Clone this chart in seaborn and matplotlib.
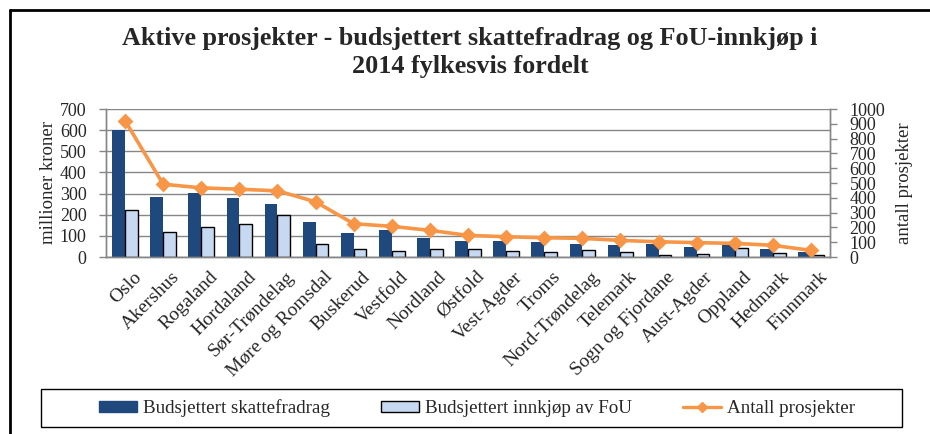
import numpy as np
import pandas as pd
import matplotlib
matplotlib.use("Agg")
import matplotlib.pyplot as plt
from matplotlib.patches import Patch, Rectangle
from matplotlib.lines import Line2D
from matplotlib.transforms import ScaledTranslation
import seaborn as sns

# data
counties = ['Oslo', 'Akershus', 'Rogaland', 'Hordaland', 'Sør-Trøndelag', 'Møre og Romsdal',
            'Buskerud', 'Vestfold', 'Nordland', 'Østfold', 'Vest-Agder', 'Troms',
            'Nord-Trøndelag', 'Telemark', 'Sogn og Fjordane', 'Aust-Agder', 'Oppland',
            'Hedmark', 'Finnmark']
skattefradrag = [600, 282, 305, 277, 253, 167, 115, 126, 88, 75, 77, 69, 60, 57, 60, 47, 55, 39, 24]
innkjop = [223, 118, 143, 154, 200, 61, 36, 30, 38, 38, 28, 22, 33, 24, 8, 14, 44, 17, 9]
prosjekter = [921, 492, 467, 458, 447, 373, 225, 207, 180, 146, 137, 130, 126, 112, 103, 97, 92, 79, 45]

lab1 = 'Budsjettert skattefradrag'
lab2 = 'Budsjettert innkjøp av FoU'
lab3 = 'Antall prosjekter'

dark = '#1F497D'
light = '#C6D9F1'
orange = '#F79646'
grid = '#868686'

df = pd.DataFrame({
    'fylke': counties * 2,
    'verdi': skattefradrag + innkjop,
    'serie': [lab1] * len(counties) + [lab2] * len(counties),
})

sns.set_theme(style='white')
plt.rcParams['font.family'] = ['Liberation Serif', 'DejaVu Serif']

W, H = 930, 434
fig = plt.figure(figsize=(W / 100, H / 100), dpi=100)
ax = fig.add_axes([106 / W, 1 - 257 / H, 724 / W, 148 / H])

sns.barplot(data=df, x='fylke', y='verdi', hue='serie', palette={lab1: dark, lab2: light},
            width=0.67, gap=0, saturation=1, legend=False, ax=ax)
for p in ax.containers[1]:
    p.set_edgecolor('black')
    p.set_linewidth(1)
for p in ax.containers[0]:
    p.set_linewidth(0)

ax2 = ax.twinx()
sns.pointplot(x=counties, y=prosjekter, ax=ax2, color=orange, markers='D',
              markersize=6, linewidth=2.6, errorbar=None)

n = len(counties)
ax.set_xlim(-0.5, n - 0.5)
ax.set_ylim(0, 700)
ax.set_yticks(range(0, 701, 100))
ax2.set_ylim(0, 1000)
ax2.set_yticks(range(0, 1001, 100))

ax.set_xticks(range(n))
ax.set_xticklabels(counties, rotation=45, ha='right', rotation_mode='anchor')
ax.set_xticks(np.arange(-0.5, n), minor=True)
ax.tick_params(axis='x', which='major', length=0, pad=6, labelsize=14)
ax.tick_params(axis='x', which='minor', length=5, width=1, color=grid, direction='out')
ax.tick_params(axis='y', length=5, width=1, color=grid, direction='out', pad=9, labelsize=13, left=True)
ax2.tick_params(axis='y', length=5, width=1, color=grid, direction='out', pad=9, labelsize=13, right=True)
shift = ScaledTranslation(8 / 100, -3 / 100, fig.dpi_scale_trans)
for lbl in ax.get_xticklabels():
    lbl.set_transform(lbl.get_transform() + shift)

ax.yaxis.grid(True, color=grid, lw=1)
ax.set_axisbelow(True)
ax.set_xlabel('')
ax.set_ylabel('millioner kroner', fontsize=13.5, labelpad=2)
ax2.set_ylabel('antall prosjekter', fontsize=13.5, labelpad=8)

for a in (ax, ax2):
    a.spines['top'].set_visible(False)
    for s in ('left', 'right', 'bottom'):
        a.spines[s].set_color(grid)
        a.spines[s].set_linewidth(1)

fig.text(470 / W, 1 - 45 / H, 'Aktive prosjekter - budsjettert skattefradrag og FoU-innkjøp i',
         ha='center', va='baseline', fontsize=18.8, fontweight='bold')
fig.text(470 / W, 1 - 72.5 / H, '2014 fylkesvis fordelt',
         ha='center', va='baseline', fontsize=18.8, fontweight='bold')

# outer chart border (top and left visible)
fig.add_artist(Line2D([10 / W, 10 / W], [0, 1 - 10 / H], transform=fig.transFigure, color='black', lw=2))
fig.add_artist(Line2D([10 / W, 1], [1 - 10 / H, 1 - 10 / H], transform=fig.transFigure, color='black', lw=2))

# legend box
fig.add_artist(Rectangle((41 / W, 1 - 427 / H), 861 / W, 38 / H, transform=fig.transFigure,
                         fill=False, edgecolor='black', lw=1))
handles = [Patch(facecolor=dark, edgecolor=dark),
           Patch(facecolor=light, edgecolor='black'),
           Line2D([0], [0], color=orange, lw=2.4, marker='D', markersize=5)]
fig.legend(handles, [lab1, lab2, lab3], loc='center', bbox_to_anchor=(477 / W, 1 - 408 / H),
           ncol=3, frameon=False, fontsize=13.7, handlelength=2.0, handleheight=0.5,
           handletextpad=0.3, columnspacing=2.7)

fig.savefig('out.png', dpi=100)
